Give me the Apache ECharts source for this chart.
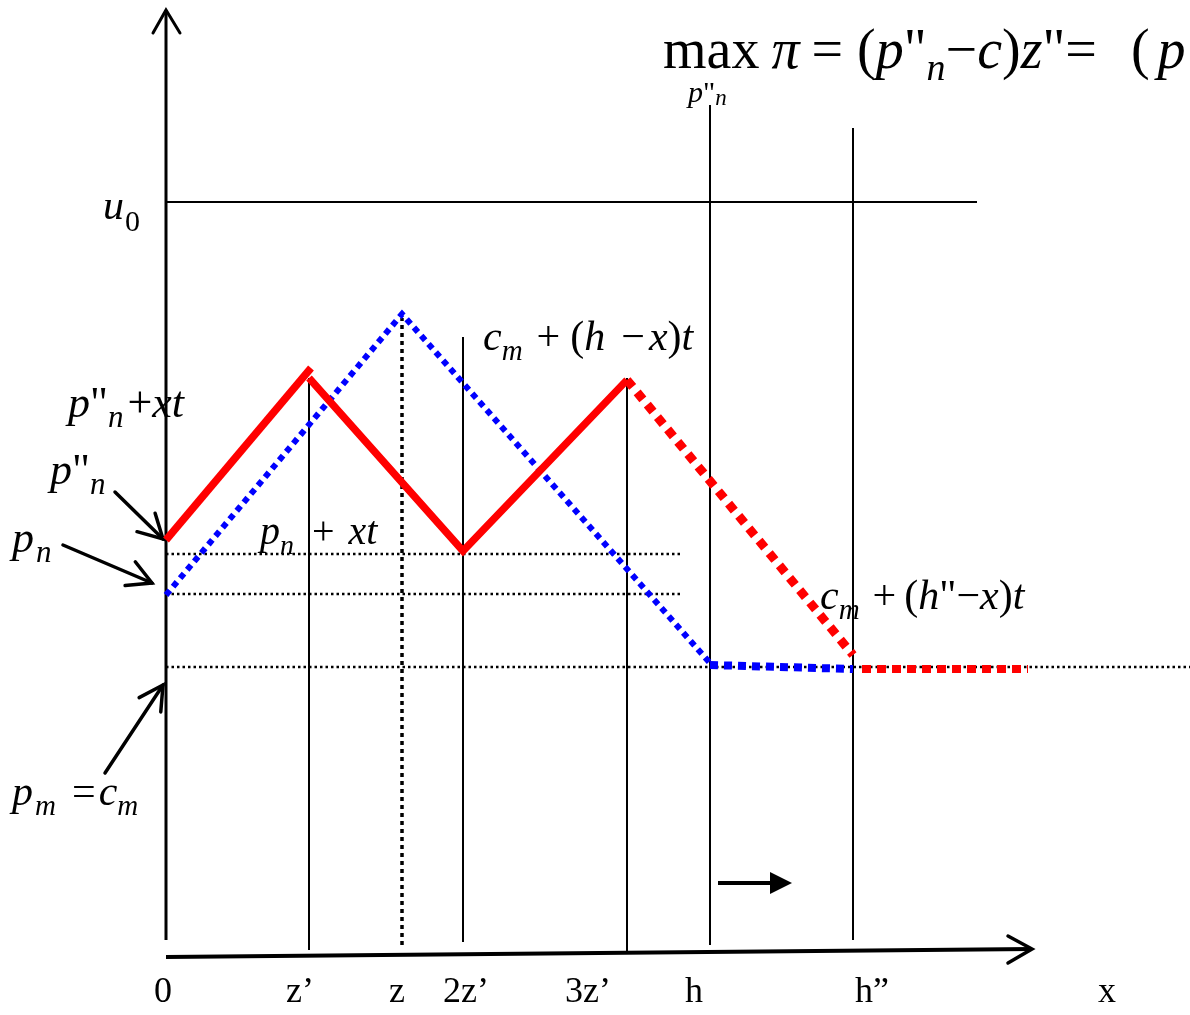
<!DOCTYPE html>
<html>
<head>
<meta charset="utf-8">
<title>Pricing diagram</title>
<script src="https://cdn.jsdelivr.net/npm/echarts@6.0.0/dist/echarts.min.js"></script>
<style>
  html, body { margin: 0; padding: 0; background: #fff; }
  #chart { width: 1190px; height: 1015px; }
</style>
</head>
<body>
<div id="chart"></div>
<script>
// Diagram units: x measured from the vertical axis, y measured upward from the x axis.

// Red price path: rising leg, zig-zag, falling dotted leg and dotted floor
const redRise    = [[0, 405], [145, 577]];
const redZigzag  = [[143, 567], [297, 394], [461, 565]];
const redFall    = [[461, 565], [687, 290]];
const redFloor   = [[696, 276], [862, 276]];

// Blue dotted path: tent peaking at z, then the floor from h to h''
const blueTent   = [[0, 350], [236, 631], [544, 282]];
const blueFloor  = [[544, 280], [687, 276]];

// Reference levels
const u0Level    = [[0, 743], [811, 743]];
const pnxtLevel  = [[0, 391], [514, 391]];
const pnLevel    = [[0, 351], [514, 351]];
const cmLevel    = [[0, 278], [1024, 278]];

// Vertical markers: [x, bottom, top]
const solidVerticals = [[143, -5, 567], [297, 3, 608], [461, -7, 567], [544, 0, 840], [687, 5, 817]];
const dottedVertical = [236, 0, 627];

// Axes
const yAxisLine = [[0, 5], [0, 935]];
const yAxisHead = [[-13, 912], [0, 935], [14, 912]];
const xAxisLine = [[0, -12], [866, -4]];
const xAxisHead = [[842, 9], [866, -4], [842, -18]];

// Pointer arrows: [from, to]
const pointers = [
  [[-51, 453], [-3, 406]],
  [[-103, 400], [-14, 362]],
  [[-61, 172], [-3, 260]]
];
const shiftArrow = [[552, 62], [615, 62]];

// Tick labels along the x axis and their centres
const xTickLabels = ['0', 'z’', 'z', '2z’', '3z’', 'h', 'h”', 'x'];
const xTickCentres = [-3, 134, 231, 300, 422, 528, 706, 941];

const SERIF = '"Liberation Serif", "Times New Roman", serif';

function seg(data, color, width, dash, cap) {
  return {
    type: 'line', data: data, symbol: 'none', silent: true, animation: false,
    lineStyle: { color: color, width: width, type: dash || 'solid', cap: cap || 'butt', join: 'miter' },
    z: 3
  };
}

function arrowHead(from, to, len, ang) {
  const dx = to[0] - from[0], dy = to[1] - from[1];
  const a = Math.atan2(dy, dx);
  const p1 = [to[0] - len * Math.cos(a - ang), to[1] - len * Math.sin(a - ang)];
  const p2 = [to[0] - len * Math.cos(a + ang), to[1] - len * Math.sin(a + ang)];
  return [p1, to, p2];
}

// Math-style label: parts are [kind, text, gapBefore]; kind i/r = italic/roman, si/sr = subscript
function mathText(left, baseline, size, parts, subScale, subDrop) {
  const L = Math.round(size * 1.4);
  const rich = {};
  let text = '';
  const sc = subScale || 0.7;
  const dr = subDrop == null ? 0.22 : subDrop;
  parts.forEach(function (p, k) {
    const kind = p[0], str = p[1], gap = p[2] || 0;
    const sub = kind.charAt(0) === 's';
    const italic = kind.charAt(kind.length - 1) === 'i';
    const fs = sub ? Math.round(size * sc) : size;
    const drop = sub ? size * dr + 0.34 * (size - fs) : 0;
    rich['t' + k] = {
      fontFamily: SERIF, fontStyle: italic ? 'italic' : 'normal', fontSize: fs,
      lineHeight: L, padding: [Math.max(0, drop * 2), 0, 0, gap], color: '#000'
    };
    text += '{t' + k + '|' + str + '}';
  });
  return {
    type: 'text', x: left, y: baseline - L / 2 - 0.34 * size, silent: true, z: 10,
    style: { text: text, rich: rich, align: 'left', verticalAlign: 'top' }
  };
}

const series = [];
// reference levels
series.push(seg(u0Level, '#000', 2));
series.push(seg(pnxtLevel, '#000', 2.5, [2.5, 3]));
series.push(seg(pnLevel, '#000', 2.5, [2.5, 3]));
series.push(seg(cmLevel, '#000', 2.5, [2.5, 3]));
// verticals
solidVerticals.forEach(function (v) {
  series.push(seg([[v[0], v[1]], [v[0], v[2]]], '#000', 2));
});
series.push(seg([[dottedVertical[0], dottedVertical[1]], [dottedVertical[0], dottedVertical[2]]], '#000', 3.5, [4, 4]));
// axes
series.push(seg(yAxisLine, '#000', 3));
series.push(seg(yAxisHead, '#000', 3, 'solid', 'round'));
series.push(seg(xAxisLine, '#000', 4));
series.push(seg(xAxisHead, '#000', 3.5, 'solid', 'round'));
// pointer arrows
pointers.forEach(function (a) {
  series.push(seg(a, '#000', 3.5, 'solid', 'round'));
  series.push(seg(arrowHead(a[0], a[1], 27, 0.5), '#000', 3.5, 'solid', 'round'));
});
// price paths
series.push(seg(blueTent, '#0000ff', 6, [6, 5]));
series.push(seg(blueFloor, '#0000ff', 8, [8, 6]));
series.push(seg(redRise, '#ff0000', 7.5));
series.push(seg(redZigzag, '#ff0000', 7.5));
series.push(seg(redFall, '#ff0000', 9, [9, 7]));
series.push(seg(redFloor, '#ff0000', 8, [9, 6]));
// filled shift arrow
series.push({
  type: 'lines', coordinateSystem: 'cartesian2d', silent: true, animation: false, z: 3,
  symbol: ['none', 'triangle'], symbolSize: [24, 22],
  lineStyle: { color: '#000', width: 4, opacity: 1, curveness: 0 },
  itemStyle: { color: '#000' },
  data: [{ coords: shiftArrow }]
});

const texts = [
  // objective
  mathText(663, 72, 56, [['r', 'max'], ['i', 'π', 12], ['r', '=', 12], ['r', '(', 14], ['i', 'p'], ['r', '"'], ['si', 'n'],
    ['r', '−'], ['i', 'c'], ['r', ')'], ['i', 'z'], ['r', '"'], ['r', '='], ['r', '(', 34], ['i', 'p', 8]], 0.68, 0.19),
  mathText(688, 104, 30, [['i', 'p'], ['r', '"'], ['si', 'n']], 0.75, 0.1),
  mathText(103, 222, 42, [['i', 'u'], ['sr', '0', 1]], 0.72, 0.26),
  mathText(68, 420, 44, [['i', 'p'], ['r', '"'], ['si', 'n'], ['r', '+', 4], ['i', 'xt']]),
  mathText(50, 487, 44, [['i', 'p'], ['r', '"'], ['si', 'n']]),
  mathText(12, 555, 44, [['i', 'p'], ['si', 'n', 2]]),
  mathText(260, 547, 40, [['i', 'p'], ['si', 'n'], ['r', '+', 18], ['i', 'xt', 14]]),
  mathText(483, 353, 42, [['i', 'c'], ['si', 'm'], ['r', '+', 14], ['r', '(', 10], ['i', 'h'],
    ['r', '−', 16], ['i', 'x', 4], ['r', ')'], ['i', 't']]),
  mathText(820, 612, 42, [['i', 'c'], ['si', 'm'], ['r', '+', 13], ['r', '(', 8], ['i', 'h'],
    ['r', '"'], ['r', '−'], ['i', 'x'], ['r', ')'], ['i', 't']]),
  mathText(12, 808, 42, [['i', 'p'], ['si', 'm', 2], ['r', '=', 16], ['i', 'c', 3], ['si', 'm']])
];
xTickLabels.forEach(function (t, k) {
  texts.push({
    type: 'text', x: 166 + xTickCentres[k], y: 1011, silent: true, z: 10,
    style: { text: t, fontFamily: SERIF, fontSize: 36, fill: '#000', align: 'center', verticalAlign: 'bottom' }
  });
});

const chart = echarts.init(document.getElementById('chart'), null, { renderer: 'canvas' });
chart.setOption({
  backgroundColor: '#fff',
  animation: false,
  grid: { left: 0, right: 0, top: 0, bottom: 0, containLabel: false },
  xAxis: { type: 'value', min: -166, max: 1024, show: false },
  yAxis: { type: 'value', min: -70, max: 945, show: false },
  series: series,
  graphic: texts
});
</script>
</body>
</html>
